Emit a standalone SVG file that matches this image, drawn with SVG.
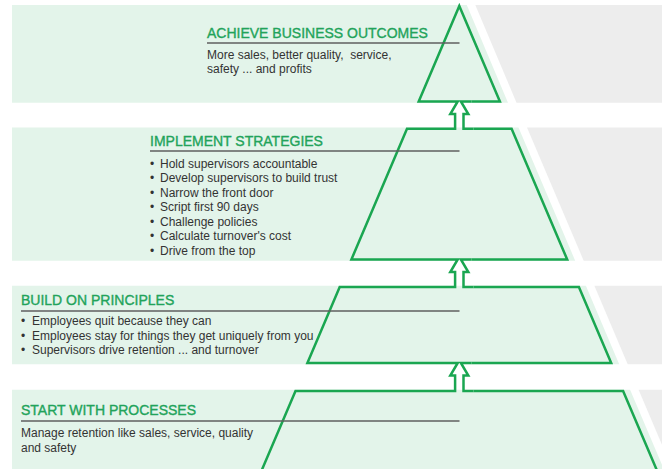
<svg xmlns="http://www.w3.org/2000/svg" width="662" height="469" viewBox="0 0 662 469">
<style>
.band{fill:#e3f4ea}
.gray{fill:#ededed}
.ttl{font-family:"Liberation Sans",Arial,sans-serif;font-size:14px;fill:#22a35a;stroke:#22a35a;stroke-width:0.35}
.txt{font-family:"Liberation Sans",Arial,sans-serif;font-size:12px;fill:#333333;white-space:pre}
.rule{stroke:#5f5f5f;stroke-width:1.5;fill:none}
.out{stroke:#1aa651;stroke-width:2.5;fill:none;stroke-linejoin:miter;stroke-miterlimit:6;stroke-linecap:butt}
</style>
<rect x="0" y="0" width="662" height="469" fill="#ffffff"/>
<g id="outcomes">
<polygon class="band" points="12,5 466.8,5 508,102.7 12,102.7"/>
<polygon class="gray" points="475.3,5 662,5 662,102.7 516.5,102.7"/>
<path class="out" d="M447,101.5 H418.7 L459.3,6 L499.9,101.5 H471.5"/>
<line class="rule" x1="207" y1="43" x2="459.5" y2="43"/>
<text class="ttl" x="207" y="38">ACHIEVE BUSINESS OUTCOMES</text>
<text class="txt" x="207" y="58.5">More sales, better quality,  service,</text>
<text class="txt" x="207" y="73">safety ... and profits</text>
</g>
<g id="strategies">
<polygon class="band" points="12,127.6 518.5,127.6 575.2,260.7 12,260.7"/>
<polygon class="gray" points="527,127.6 662,127.6 662,260.7 583.7,260.7"/>
<path class="out" d="M445,128.8 H407 L351.4,259.5 H447 M473.5,128.8 H511.6 L567.2,259.5 H471.5"/>
<line class="rule" x1="150" y1="151" x2="459.5" y2="151"/>
<text class="ttl" x="150" y="146">IMPLEMENT STRATEGIES</text>
<text class="txt" x="150" y="167.5">•</text><text class="txt" x="160" y="167.5">Hold supervisors accountable</text>
<text class="txt" x="150" y="182">•</text><text class="txt" x="160" y="182">Develop supervisors to build trust</text>
<text class="txt" x="150" y="196.5">•</text><text class="txt" x="160" y="196.5">Narrow the front door</text>
<text class="txt" x="150" y="211">•</text><text class="txt" x="160" y="211">Script first 90 days</text>
<text class="txt" x="150" y="225.5">•</text><text class="txt" x="160" y="225.5">Challenge policies</text>
<text class="txt" x="150" y="240">•</text><text class="txt" x="160" y="240">Calculate turnover's cost</text>
<text class="txt" x="150" y="254.5">•</text><text class="txt" x="160" y="254.5">Drive from the top</text>
</g>
<g id="principles">
<polygon class="band" points="12,285.8 585.9,285.8 619.2,364.2 12,364.2"/>
<polygon class="gray" points="594.4,285.8 662,285.8 662,364.2 627.7,364.2"/>
<path class="out" d="M445,287 H339.7 L307.4,363 H447 M473.5,287 H578.9 L611.2,363 H471.5"/>
<line class="rule" x1="21" y1="311" x2="459.5" y2="311"/>
<text class="ttl" x="21" y="304.5">BUILD ON PRINCIPLES</text>
<text class="txt" x="21" y="325">•</text><text class="txt" x="32" y="325">Employees quit because they can</text>
<text class="txt" x="21" y="339.5">•</text><text class="txt" x="32" y="339.5">Employees stay for things they get uniquely from you</text>
<text class="txt" x="21" y="354">•</text><text class="txt" x="32" y="354">Supervisors drive retention ... and turnover</text>
</g>
<g id="processes">
<polygon class="band" points="12,389.8 630.1,389.8 662,464.8 662,469 12,469"/>
<polygon class="gray" points="638.6,389.8 662,389.8 662,444.8"/>
<path class="out" d="M445,391 H295.5 L259.7,475 M473.5,391 H623.1 L658.9,475"/>
<line class="rule" x1="21" y1="421" x2="459.5" y2="421"/>
<text class="ttl" x="21" y="415">START WITH PROCESSES</text>
<text class="txt" x="21" y="437">Manage retention like sales, service, quality</text>
<text class="txt" x="21" y="451.5">and safety</text>
</g>
<g id="connectors">
<path class="out" d="M445,128.8 H455.1 V114 H450.3 L457.7,101.5 H447 M473.5,128.8 H463.5 V114 H468.3 L460.9,101.5 H471.5"/>
<path class="out" d="M445,287 H455.1 V272 H450.3 L457.7,259.5 H447 M473.5,287 H463.5 V272 H468.3 L460.9,259.5 H471.5"/>
<path class="out" d="M445,391 H455.1 V375.5 H450.3 L457.7,363 H447 M473.5,391 H463.5 V375.5 H468.3 L460.9,363 H471.5"/>
</g>
</svg>
